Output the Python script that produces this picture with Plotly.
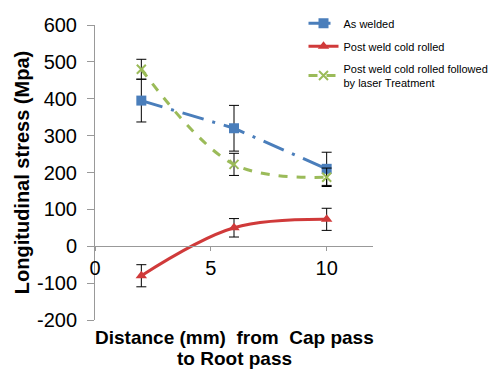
import plotly.graph_objects as go

x_vals = [2, 6, 10]
as_welded = [395, 320, 210]
as_welded_err = [58, 62, 45]
cold_rolled = [-80, 50, 73]
cold_rolled_err = [30, 25, 30]
laser = [480, 222, 187]
laser_err = [27, 30, 25]

series_names = ["As welded", "Post weld cold rolled",
                "Post weld cold rolled followed<br>by laser Treatment"]

x_ticks = [0, 5, 10]
y_ticks = [-200, -100, 0, 100, 200, 300, 400, 500, 600]
y_tick_text = ["-200", "-100", "0", "100", "200", "300", "400", "500", "600"]

fig = go.Figure()

fig.add_trace(go.Scatter(
    x=x_vals, y=as_welded, name=series_names[0], mode="lines+markers", legendgroup="a",
    line=dict(color="#4a7ebb", width=3, dash="22px,9px,3px,9px"),
    marker=dict(symbol="square", size=10, color="#4a7ebb"),
    error_y=dict(type="data", array=as_welded_err, color="black", thickness=1, width=5),
))
fig.add_trace(go.Scatter(
    x=x_vals, y=cold_rolled, name=series_names[1], mode="lines+markers", legendgroup="b",
    line=dict(color="#d03a3a", width=3, shape="spline", smoothing=1),
    marker=dict(symbol="triangle-up", size=10, color="#d03a3a"),
    error_y=dict(type="data", array=cold_rolled_err, color="black", thickness=1, width=5),
))
fig.add_trace(go.Scatter(
    x=x_vals, y=laser, name=series_names[2], mode="lines+markers", legendgroup="c",
    line=dict(color="#9bbb59", width=3, dash="dash", shape="spline", smoothing=1),
    marker=dict(symbol="x-thin", size=9, color="#9bbb59", line=dict(color="#9bbb59", width=2)),
    error_y=dict(type="data", array=laser_err, color="black", thickness=1, width=5),
))

fig.update_layout(
    width=496, height=370,
    margin=dict(l=95, r=123, t=25, b=50, autoexpand=False),
    paper_bgcolor="white", plot_bgcolor="white",
    font=dict(family="Liberation Sans, Arial, sans-serif", color="black"),
    showlegend=True,
    legend=dict(x=0.75, y=1.055, xanchor="left", yanchor="top",
                bgcolor="rgba(0,0,0,0)", font=dict(size=11),
                tracegroupgap=4, itemwidth=30),
    xaxis=dict(range=[0, 12], tickvals=x_ticks, showgrid=False, zeroline=False,
               showline=True, linecolor="#999999", linewidth=1,
               ticks="outside", ticklen=4, tickcolor="#999999",
               tickfont=dict(size=20), anchor="free", position=0.25, automargin=False),
    yaxis=dict(range=[-200, 600], tickvals=y_ticks, ticktext=y_tick_text,
               showgrid=False, zeroline=False,
               showline=True, linecolor="#999999", linewidth=1,
               ticks="outside", ticklen=7, tickcolor="#999999",
               tickfont=dict(size=20), ticklabelstandoff=6, automargin=False,
               title=dict(text="<b>Longitudinal stress (Mpa)</b>", font=dict(size=20), standoff=1)),
    annotations=[
        dict(text="<b>Distance (mm)  from  Cap pass</b>",
             x=0.5, y=-0.061, xref="paper", yref="paper",
             xanchor="center", yanchor="middle", showarrow=False, font=dict(size=19)),
        dict(text="<b>to Root pass</b>",
             x=0.5, y=-0.132, xref="paper", yref="paper",
             xanchor="center", yanchor="middle", showarrow=False, font=dict(size=19)),
    ],
)

fig.write_html("out.html")
